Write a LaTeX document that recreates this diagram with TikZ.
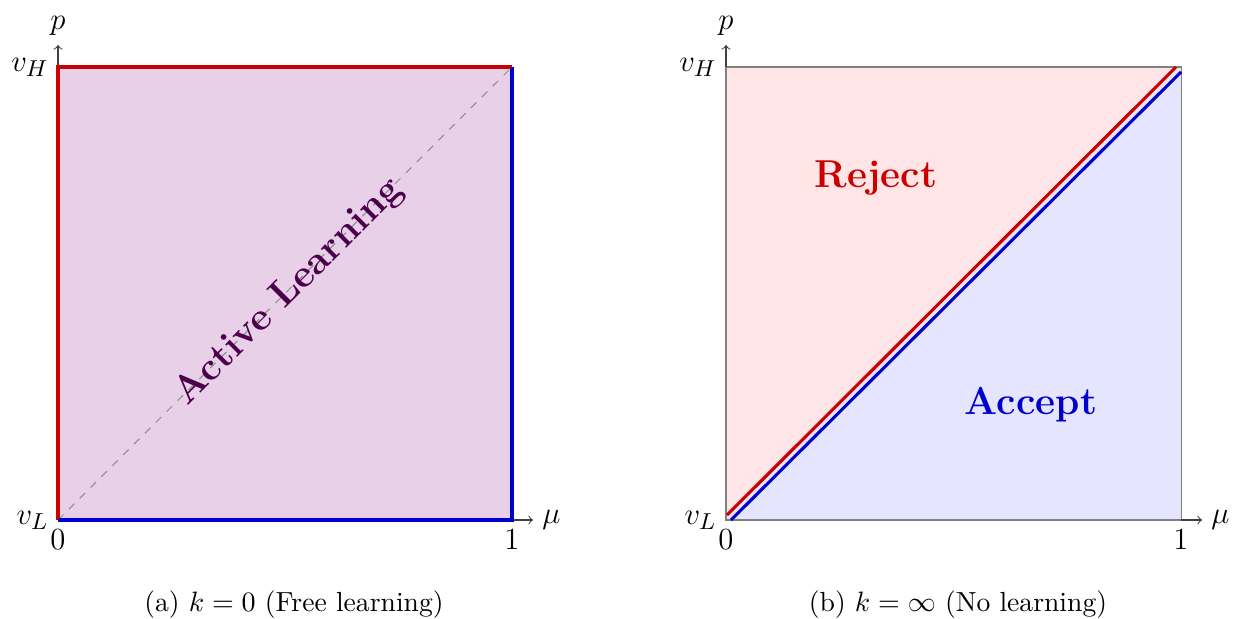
\documentclass[tikz,border=0pt]{standalone}
\usepackage{amsmath,amssymb}
\begin{document}
\begin{tikzpicture}[x=0.013736cm,y=-0.013736cm,
  redln/.style={draw=red!80!black,line width=1.6pt},
  blueln/.style={draw=blue!80!black,line width=1.6pt},
  redd/.style={draw=red!80!black,line width=1.2pt},
  blued/.style={draw=blue!80!black,line width=1.2pt},
  axis/.style={->,draw=black!75},
  lbl/.style={font=\fontsize{13}{15}\selectfont,inner sep=3.5pt},
  bigtxt/.style={font=\fontsize{15.2}{18}\selectfont\bfseries},
  captxt/.style={font=\fontsize{10.8}{13}\selectfont}]
\useasboundingbox (0,0) rectangle (1238,619);
% ---------- left panel ----------
\coordinate (A0) at (58,520);
\coordinate (A1) at (512,520);
\coordinate (A2) at (512,67);
\coordinate (A3) at (58,67);
\coordinate (Ap) at (58,45);
\coordinate (Am) at (533,520);
\fill[violet!18] (A0) rectangle (A2);
\draw[dashed,gray!90] (A0) -- (A2);
\draw[axis] (A0) -- (Ap);
\draw[axis] (A0) -- (Am);
\draw[redln] (A0) -- (A3) -- (A2);
\draw[blueln] (A0) -- (A1) -- (A2);
\node[lbl,anchor=south] (pA) at (Ap) {$p$};
\node[lbl,anchor=west] (muA) at (Am) {$\mu$};
\node[lbl,anchor=east] (vHA) at (A3) {$v_H$};
\node[lbl,anchor=east] (vLA) at (A0) {$v_L$};
\node[lbl,anchor=north] (zA) at (A0) {$0$};
\node[lbl,anchor=north] (oA) at (A1) {$1$};
\node[bigtxt,text=violet!60!black,rotate=45] (act) at (289,292) {Active Learning};
\node[captxt] (capA) at (294,605) {(a) $k=0$ (Free learning)};
% ---------- right panel ----------
\coordinate (B0) at (726,520);
\coordinate (B1) at (1181,520);
\coordinate (B2) at (1181,67);
\coordinate (B3) at (726,67);
\coordinate (Bp) at (726,45);
\coordinate (Bm) at (1202,520);
\coordinate (R0) at (727,515);
\coordinate (R1) at (1176,67);
\coordinate (L0) at (731,520);
\coordinate (L1) at (1181,72);
\fill[red!10] (B0) -- (B2) -- (B3) -- cycle;
\fill[blue!10] (B0) -- (B1) -- (B2) -- cycle;
\draw[gray] (B0) rectangle (B2);
\draw[axis] (B3) -- (Bp);
\draw[axis] (B1) -- (Bm);
\draw[redd] (R0) -- (R1);
\draw[blued] (L0) -- (L1);
\node[lbl,anchor=south] (pB) at (Bp) {$p$};
\node[lbl,anchor=west] (muB) at (Bm) {$\mu$};
\node[lbl,anchor=east] (vHB) at (B3) {$v_H$};
\node[lbl,anchor=east] (vLB) at (B0) {$v_L$};
\node[lbl,anchor=north] (zB) at (B0) {$0$};
\node[lbl,anchor=north] (oB) at (B1) {$1$};
\node[bigtxt,text=red!80!black] (rej) at (876,178) {Reject};
\node[bigtxt,text=blue!80!black] (acc) at (1031,405) {Accept};
\node[captxt] (capB) at (958,605) {(b) $k=\infty$ (No learning)};
\end{tikzpicture}
\end{document}
